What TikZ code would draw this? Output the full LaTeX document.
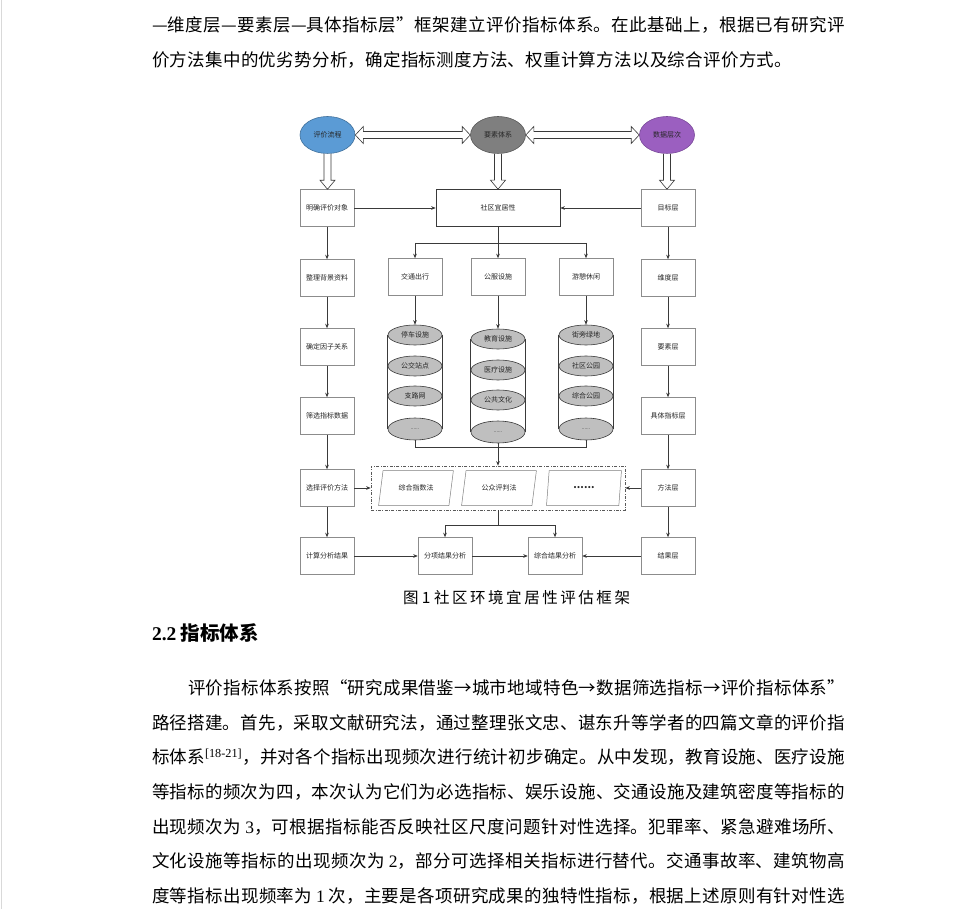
\documentclass[tikz,border=0pt]{standalone}
\usepackage{fontspec}
\setmainfont{Noto Sans CJK SC}
\newfontfamily\serifl{Liberation Serif}
\usetikzlibrary{arrows.meta,shapes.geometric,calc}
\XeTeXlinebreaklocale "zh"
\definecolor{boxgray}{HTML}{8C8C8C}
\definecolor{lncol}{HTML}{3A3A3A}
\definecolor{txt}{HTML}{262626}
\definecolor{blueE}{HTML}{5B9BD5}
\definecolor{blueD}{HTML}{41719C}
\definecolor{grayE}{HTML}{7F7F7F}
\definecolor{grayD}{HTML}{595959}
\definecolor{purpE}{HTML}{9B5FC0}
\definecolor{purpD}{HTML}{7A4A9A}
\definecolor{cylF}{HTML}{BFBFBF}
\newcommand\jline[2]{\parbox[t]{#1}{\XeTeXlinebreakskip=0pt plus 1fil\parfillskip=0pt\tolerance=10000\noindent #2}}
\newcommand\bodyfont{\fontsize{17.5pt}{21pt}\selectfont}
\newcommand\dfont{\fontsize{7pt}{8pt}\selectfont}
\begin{document}
\begin{tikzpicture}[x=1pt,y=-1pt,
  txtline/.style={anchor=base west,inner sep=0pt,outer sep=0pt},
  bx/.style={draw=boxgray,line width=0.5pt,minimum width=54pt,minimum height=37pt,inner sep=1pt,font=\dfont,text=txt},
  cbox/.style={bx,draw=lncol,line width=0.6pt,minimum width=124pt},
  ell/.style={ellipse,line width=0.6pt,minimum width=55pt,minimum height=37pt,inner sep=0pt,font=\dfont,text=txt},
  cyl/.style={ellipse,draw=lncol,fill=cylF,line width=0.6pt,minimum width=54pt,minimum height=20pt,inner sep=0pt,font=\dfont,text=txt},
  par/.style={trapezium,trapezium left angle=70,trapezium right angle=110,trapezium stretches=true,draw=grayE,line width=0.5pt,minimum width=75pt,minimum height=35pt,inner sep=0pt,font=\dfont,text=txt},
  ln/.style={draw=lncol,line width=0.6pt},
  arr/.style={ln,-{Stealth[length=4.5pt,width=3.6pt]}},
  hol/.style={draw=lncol,fill=white,line width=0.6pt,line join=miter}
]
\fill[white] (0,0) rectangle (972,909);
\useasboundingbox (0,0) rectangle (972,909);
\draw[gray!30,line width=1pt] (1.5,0) -- (1.5,909);

% ---------- top paragraph ----------
\node[txtline] (p1) at (152,31.6) {\bodyfont\jline{693pt}{—维度层—要素层—具体指标层”框架建立评价指标体系。在此基础上，根据已有研究评}};
\node[txtline] (p2) at (152,66.6) {\bodyfont\jline{640pt}{价方法集中的优劣势分析，确定指标测度方法、权重计算方法以及综合评价方式。}};

% ---------- diagram ----------
\node[ell,draw=blueD,fill=blueE] (e1) at (327.5,135) {评价流程};
\node[ell,draw=grayD,fill=grayE] (e2) at (498,135) {要素体系};
\node[ell,draw=purpD,fill=purpE] (e3) at (667,135) {数据层次};

\node[bx] (b1) at (327,208) {明确评价对象};
\node[bx] (b2) at (327,278) {整理背景资料};
\node[bx] (b3) at (327,347) {确定因子关系};
\node[bx] (b4) at (327,416) {筛选指标数据};
\node[bx] (b5) at (327,488) {选择评价方法};
\node[bx] (b6) at (327,556) {计算分析结果};

\node[bx] (r1) at (668,208) {目标层};
\node[bx] (r2) at (668,278) {维度层};
\node[bx] (r3) at (668,347) {要素层};
\node[bx] (r4) at (668,416) {具体指标层};
\node[bx] (r5) at (668,488) {方法层};
\node[bx] (r6) at (668,556) {结果层};

\node[cbox] (c0) at (498,208) {社区宜居性};

\node[bx] (k1) at (415,277) {交通出行};
\node[bx] (k2) at (498,277) {公服设施};
\node[bx] (k3) at (586,277) {游憩休闲};

% cylinders
\node[cyl] (a1) at (415,335) {停车设施};
\node[cyl] (a2) at (415,366) {公交站点};
\node[cyl] (a3) at (415,396) {支路网};
\node[cyl,minimum height=22pt] (a4) at (415,429) {\fontsize{5pt}{6pt}\selectfont ......};
\node[cyl] (d1) at (498,339) {教育设施};
\node[cyl] (d2) at (498,370) {医疗设施};
\node[cyl] (d3) at (498,400) {公共文化};
\node[cyl,minimum height=22pt] (d4) at (498,432) {\fontsize{5pt}{6pt}\selectfont ......};
\node[cyl] (g1) at (586,335) {街旁绿地};
\node[cyl] (g2) at (586,366) {社区公园};
\node[cyl] (g3) at (586,396) {综合公园};
\node[cyl,minimum height=22pt] (g4) at (586,429) {\fontsize{5pt}{6pt}\selectfont ......};
\draw[ln] (a1.west) -- (a4.west) (a1.east) -- (a4.east);
\draw[ln] (d1.west) -- (d4.west) (d1.east) -- (d4.east);
\draw[ln] (g1.west) -- (g4.west) (g1.east) -- (g4.east);

% method box
\node[draw=grayD,line width=0.7pt,dash pattern=on 3pt off 1.5pt on 0.8pt off 1.5pt,minimum width=254pt,minimum height=44pt,inner sep=0pt] (dbox) at (498,488) {};
\node[par] (q1) at (416,488) {综合指数法};
\node[par] (q2) at (499,488) {公众评判法};
\node[par] (q3) at (584,488) {\fontsize{10pt}{11pt}\selectfont\bfseries ......};

\node[bx] (m1) at (445,556) {分项结果分析};
\node[bx] (m2) at (555,556) {综合结果分析};

% hollow double arrows
\draw[hol] let \p1=(e1.east), \p2=(e2.west) in
  (\x1,\y1) -- (\x1+8pt,\y1+8.5pt) -- (\x1+8pt,\y1+3.5pt) -- (\x2-8pt,\y1+3.5pt) -- (\x2-8pt,\y1+8.5pt) -- (\x2,\y1)
  -- (\x2-8pt,\y1-8.5pt) -- (\x2-8pt,\y1-3.5pt) -- (\x1+8pt,\y1-3.5pt) -- (\x1+8pt,\y1-8.5pt) -- cycle;
\draw[hol] let \p1=(e2.east), \p2=(e3.west) in
  (\x1,\y1) -- (\x1+8pt,\y1+8.5pt) -- (\x1+8pt,\y1+3.5pt) -- (\x2-8pt,\y1+3.5pt) -- (\x2-8pt,\y1+8.5pt) -- (\x2,\y1)
  -- (\x2-8pt,\y1-8.5pt) -- (\x2-8pt,\y1-3.5pt) -- (\x1+8pt,\y1-3.5pt) -- (\x1+8pt,\y1-8.5pt) -- cycle;
% hollow down arrows
\draw[hol] let \p1=(e1.south), \p2=(b1.north) in
  (\x1-3.5pt,\y1) -- (\x1-3.5pt,\y2+9pt) -- (\x1-7.5pt,\y2+9pt) -- (\x1,\y2) -- (\x1+7.5pt,\y2+9pt) -- (\x1+3.5pt,\y2+9pt) -- (\x1+3.5pt,\y1);
\draw[hol] let \p1=(e2.south), \p2=(c0.north) in
  (\x1-3.5pt,\y1) -- (\x1-3.5pt,\y2+9pt) -- (\x1-7.5pt,\y2+9pt) -- (\x1,\y2) -- (\x1+7.5pt,\y2+9pt) -- (\x1+3.5pt,\y2+9pt) -- (\x1+3.5pt,\y1);
\draw[hol] let \p1=(e3.south), \p2=(r1.north) in
  (\x1-3.5pt,\y1) -- (\x1-3.5pt,\y2+9pt) -- (\x1-7.5pt,\y2+9pt) -- (\x1,\y2) -- (\x1+7.5pt,\y2+9pt) -- (\x1+3.5pt,\y2+9pt) -- (\x1+3.5pt,\y1);

% connectors
\draw[arr] (b1) -- (c0);
\draw[arr] (r1) -- (c0);
\draw[arr] (b1) -- (b2);
\draw[arr] (b2) -- (b3);
\draw[arr] (b3) -- (b4);
\draw[arr] (b4) -- (b5);
\draw[arr] (b5) -- (b6);
\draw[arr] (r1) -- (r2);
\draw[arr] (r2) -- (r3);
\draw[arr] (r3) -- (r4);
\draw[arr] (r4) -- (r5);
\draw[arr] (r5) -- (r6);

\coordinate (jt) at (498,243);
\draw[arr] (c0) -- (k2);
\draw[ln] (k1.north |- jt) -- (k3.north |- jt);
\draw[arr] (k1.north |- jt) -- (k1.north);
\draw[arr] (k3.north |- jt) -- (k3.north);

\draw[arr] (k1) -- (a1);
\draw[arr] (k2) -- (d1);
\draw[arr] (k3) -- (g1);

\coordinate (jb) at (498,447);
\draw[ln] (a4.south) -- (a4.south |- jb) -- (g4.south |- jb) -- (g4.south);
\draw[arr] (d4.south) -- (dbox.north);

\draw[arr] (b5) -- (dbox);
\draw[arr] (r5) -- (dbox);

\coordinate (jm) at (498,525);
\draw[ln] (dbox.south) -- (jm);
\draw[ln] (m1.north |- jm) -- (m2.north |- jm);
\draw[arr] (m1.north |- jm) -- (m1.north);
\draw[arr] (m2.north |- jm) -- (m2.north);

\draw[arr] (b6) -- (m1);
\draw[arr] (m1) -- (m2);
\draw[arr] (r6) -- (m2);

% caption
\node[txtline] (cap) at (403,603) {\fontsize{15.5pt}{18pt}\selectfont\jline{227pt}{图 1 社区环境宜居性评估框架}};

% heading
\node[txtline] (hd) at (152,640) {\fontsize{19.5pt}{22pt}\selectfont\bfseries{\serifl 2.2} 指标体系};

% bottom paragraph
\node[txtline] (l1) at (188,694.6) {\bodyfont\jline{657pt}{评价指标体系按照“研究成果借鉴→城市地域特色→数据筛选指标→评价指标体系”}};
\node[txtline] (l2) at (152,729.6) {\bodyfont\jline{693pt}{路径搭建。首先，采取文献研究法，通过整理张文忠、谌东升等学者的四篇文章的评价指}};
\node[txtline] (l3) at (152,763.6) {\bodyfont\jline{693pt}{标体系\textsuperscript{\serifl [18-21]}，并对各个指标出现频次进行统计初步确定。从中发现，教育设施、医疗设施}};
\node[txtline] (l4) at (152,798.6) {\bodyfont\jline{693pt}{等指标的频次为四，本次认为它们为必选指标、娱乐设施、交通设施及建筑密度等指标的}};
\node[txtline] (l5) at (152,833.6) {\bodyfont\jline{693pt}{出现频次为 {\serifl 3}，可根据指标能否反映社区尺度问题针对性选择。犯罪率、紧急避难场所、}};
\node[txtline] (l6) at (152,867.6) {\bodyfont\jline{693pt}{文化设施等指标的出现频次为 {\serifl 2}，部分可选择相关指标进行替代。交通事故率、建筑物高}};
\node[txtline] (l7) at (152,902.6) {\bodyfont\jline{693pt}{度等指标出现频率为 {\serifl 1} 次，主要是各项研究成果的独特性指标，根据上述原则有针对性选}};
\end{tikzpicture}
\end{document}
